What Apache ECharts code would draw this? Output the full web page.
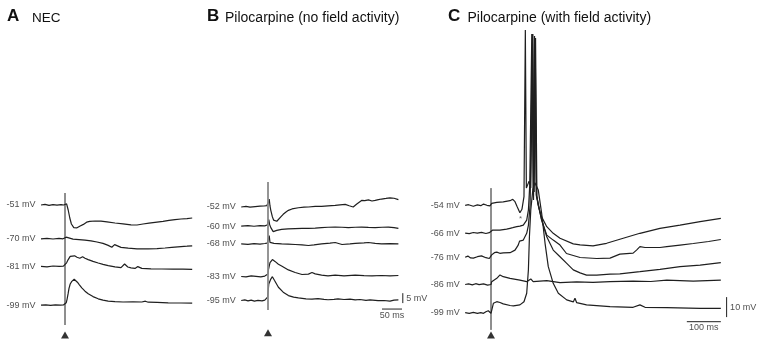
<!DOCTYPE html>
<html>
<head>
<meta charset="utf-8">
<title>Evoked responses</title>
<script src="https://cdn.jsdelivr.net/npm/echarts@6.0.0/dist/echarts.min.js"></script>
<style>
  html, body { margin: 0; padding: 0; background: #ffffff; }
  #chart { width: 762px; height: 346px; }
</style>
</head>
<body>
<div id="chart"></div>
<script>
// ---- data (time in ms from stimulus, voltage in mV relative to each trace's baseline) ----

// panel A: NEC
const labelsA = ['-51 mV', '-70 mV', '-81 mV', '-99 mV'];
const offsetsA = [0, -16.9, -30.7, -50.1];
const nec51 = [[-60,0],[-50,0.3],[-40,-0.2],[-30,0.2],[-20,-0.1],[-10,0.2],[-3,0],[0,1.0],[4,0.6],[8,-2.5],[12,-6.5],[16,-9.5],[22,-11.3],[30,-11.4],[38,-10.5],[46,-9.7],[54,-8.6],[62,-8.2],[75,-8],[90,-8.1],[105,-8.4],[125,-9],[145,-9.4],[165,-9.9],[180,-10],[195,-9.5],[210,-9.1],[225,-8.7],[245,-8.2],[260,-7.7],[275,-7.3],[290,-7.0],[305,-6.8],[318,-6.5]];
const nec70 = [[-60,0],[-45,0.2],[-30,-0.1],[-15,0.2],[-5,0],[0,0.3],[3,0.8],[8,0.3],[20,-0.2],[35,-0.4],[50,-0.7],[65,-1],[80,-1.6],[95,-2.3],[108,-3.3],[117,-4.2],[121,-3.2],[124,-2.9],[129,-3.7],[140,-4.3],[158,-4.7],[180,-5],[208,-5],[230,-4.9],[250,-4.6],[267,-4.3],[290,-3.9],[305,-3.7],[318,-3.5]];
const nec81 = [[-60,0],[-45,-0.2],[-30,0.2],[-15,0],[-4,0.1],[0,0.4],[4,1.8],[8,3.4],[13,5],[18,5.8],[24,5.3],[30,4.6],[37,4.1],[41,4.6],[44,4.8],[50,4.1],[58,3.4],[70,2.5],[83,1.7],[95,1],[108,0.4],[125,-0.2],[140,-0.6],[145,0.2],[149,1.2],[152,0.6],[157,-0.3],[165,-0.7],[175,-1],[179,-0.5],[182,-0.1],[186,-0.8],[192,-1],[215,-1.2],[242,-1.3],[270,-1.4],[295,-1.4],[318,-1.5]];
const nec99 = [[-60,0],[-48,0.2],[-36,-0.1],[-24,0.2],[-12,0],[-4,0.1],[0,0.4],[3,1.2],[5,2.8],[8,6],[10,8.4],[13,10.6],[17,11.9],[23,13],[27,12.6],[31,11.5],[36,10.2],[42,8.7],[50,7],[58,5.7],[70,4.3],[83,3.2],[95,2.5],[108,2],[125,1.8],[145,1.6],[170,1.7],[192,1.6],[197,2.3],[201,2],[208,1.5],[230,1.4],[258,1.2],[290,1.1],[318,1]];
const stimA = [6, -60, -65];

// panel B: pilocarpine, no field activity
const labelsB = ['-52 mV', '-60 mV', '-68 mV', '-83 mV', '-95 mV'];
const offsetsB = [0, -9.6, -18.6, -35, -47.1];
const pilo52 = [[-67,0],[-55,0.3],[-45,-0.1],[-32,0.2],[-20,0.4],[-10,0.5],[-3,0.7],[0,0.9],[1.5,2.5],[3,4],[5,0.5],[7,-1.7],[11,-5],[14,-6.6],[17.5,-7.5],[22,-7.2],[26,-6.4],[32,-5],[38,-3.7],[45,-2.5],[51,-1.7],[60,-1],[76,-0.4],[90,-0.1],[101,0],[118,0.3],[134,0.3],[150,0.6],[168,0.8],[180,1.1],[193,1.3],[203,0.6],[213,0],[222,1.5],[234,3.3],[242,3.2],[251,3.6],[260,3],[268,3.3],[276,3.7],[284,4],[295,4.3],[305,4.6],[315,4.4],[326,3.7]];
const pilo60 = [[-67,0],[-50,0.2],[-35,-0.1],[-20,0.2],[-8,0.1],[-2,0.5],[0,0.8],[2,3.3],[4,0.8],[7,-0.8],[13,-2.8],[22,-2.2],[34,-1.7],[50,-1.4],[68,-1.3],[85,-1.2],[101,-1.2],[118,-1],[134,-0.8],[150,-0.6],[168,-0.5],[185,-0.6],[201,-0.8],[218,-0.6],[234,-0.5],[251,-0.7],[268,-0.8],[285,-0.6],[301,-0.5],[315,-0.8],[326,-1.2]];
const pilo68 = [[-67,0],[-50,-0.2],[-35,0.1],[-20,-0.1],[-8,0.2],[-2,0.4],[0,0.8],[3,4.2],[5,0.8],[8,1.7],[10,0.5],[15,0.3],[34,0],[50,-0.1],[68,-0.3],[85,-0.5],[101,-0.8],[115,-0.5],[134,0],[155,0.4],[168,0.7],[185,-0.3],[205,0],[218,0.3],[240,0.5],[251,0.7],[268,0.3],[284,0],[305,0.1],[326,0]];
const pilo83 = [[-67,0],[-55,-0.2],[-42,0.3],[-30,0.1],[-18,-0.2],[-8,0.2],[-4,0.3],[0,1.2],[1,3.3],[5,7],[11,8.5],[17.5,7.6],[26,6.2],[34,5.3],[51,3.3],[68,2],[85,1],[101,1.2],[110,2],[118,1.3],[134,0.7],[150,0.3],[168,0.7],[190,0.3],[218,0.7],[240,0.4],[260,0.3],[284,0.5],[305,0.3],[326,0.5]];
const pilo95 = [[-67,0],[-58,0.3],[-50,-0.2],[-42,0.2],[-34,-0.3],[-25,0.1],[-15,-0.2],[-8,0.2],[-3,0.3],[-1,1.7],[2,8.3],[7,10.8],[11,12],[16,10.2],[26,6.7],[38,4.2],[51,2.5],[64,1.7],[76,1.3],[95,0.8],[110,0.7],[125,1],[140,0.6],[150,0.4],[165,0.6],[175,0.8],[190,0.5],[205,0.7],[218,0.3],[230,0.5],[245,0.1],[255,0.3],[275,-0.1],[290,0],[305,-0.3],[315,0.2],[326,0.3]];
const stimB = [12.6, -51.9, -63.3];
const barB = { ms: [285, 335], msLevel: -51.4, mV: [-43.4, -48.4], mVAt: 337 };

// panel C: pilocarpine, with field activity
const labelsC = ['-54 mV', '-66 mV', '-76 mV', '-86 mV', '-99 mV'];
const offsetsC = [0, -13.9, -26, -39.6, -53.7];
const field54 = [[-76,0],[-66,0.3],[-52,-0.5],[-40,0.2],[-30,-0.2],[-22,0.6],[-12,0],[-3,-0.3],[0,0],[2,1],[17,1.5],[36,1.7],[56,2.3],[64,3],[70.6,1.8],[77,-0.7],[85,-3.7],[91,-2],[97,4.3],[101,87.6],[104,8.6],[112,12.1],[117,8.6],[123,85.6],[127,6.6],[131,83.6],[135,4.6],[139,0],[144,-3.3],[149,-5.8],[164,-10.7],[183,-14],[203,-16.5],[242,-19.3],[262,-19.8],[300,-20.3],[340,-19],[379,-17],[438,-14],[497,-11.5],[556,-9.9],[615,-8.2],[676,-6.5]];
const field66 = [[-76,0],[-64,-0.3],[-52,0.3],[-40,0],[-28,0.4],[-15,-0.2],[-5,0.2],[0,-0.2],[5,1.5],[26,1.5],[46,2],[56,2.4],[64,2.7],[76,3.2],[85,3.5],[95,4],[105,6.5],[110,11.5],[114,24],[120,99.5],[124,21.5],[128,98.5],[133,19],[139,14],[149,6.5],[164,-1],[183,-3.5],[203,-6],[222,-10.2],[262,-12.2],[311,-12.7],[350,-12.5],[379,-10.5],[418,-10],[428,-8.5],[438,-6.8],[443,-6],[453,-7.2],[497,-7.2],[517,-6.8],[556,-6],[595,-5.2],[640,-4.2],[676,-3.2]];
const field76 = [[-76,0],[-68,0.6],[-60,-0.3],[-52,-0.4],[-40,0.3],[-28,0.7],[-15,-0.2],[-5,-0.6],[0,-0.4],[2,1.2],[10,2.3],[17,2.6],[26,2],[36,2.2],[56,2.3],[70.6,3.6],[80,6.1],[84,8.1],[88,7.1],[95,8.6],[100,9.5],[105,12],[110,16],[115,26],[122,111.6],[125,28.6],[130,106],[134,31],[140,26],[149,18.6],[164,10.3],[183,3.6],[203,0.3],[222,-2.9],[242,-6.3],[262,-7.8],[281,-8.9],[311,-8.9],[350,-8.4],[379,-8.3],[438,-7.2],[497,-6],[556,-4.7],[615,-3.9],[676,-2.7]];
const field86 = [[-76,0],[-66,0.3],[-55,-0.2],[-45,0.4],[-35,-0.1],[-22,0.3],[-10,-0.3],[0,0],[2,1.4],[17,3.1],[26.5,4.8],[36,3.9],[56,3.1],[85,2.2],[105,1.4],[117,2.8],[124,1.4],[164,1.9],[203,0.9],[252,1.3],[300,1.1],[350,1.4],[418,1.7],[470,1.5],[517,2.2],[595,1.7],[676,2.2]];
const field99 = [[-76,0],[-64,-0.3],[-52,0.2],[-40,-0.3],[-30,0],[-22,-0.3],[-15,0.5],[-8,1],[-3,1],[0,-0.3],[7,4.7],[17,5.5],[26.5,5.1],[36,4.4],[56,3.6],[66,3.4],[85,3.9],[97,5.5],[105,9.7],[110,21.4],[113,38],[117,51.4],[123,61.4],[129,65],[139,61.4],[149,49.7],[159,34.7],[168.5,23],[183,14.7],[198,9.7],[222.6,6.4],[242,5.4],[247,7.2],[252,5],[281,3.9],[350,3],[418,2.7],[438,3.9],[453,2.7],[517,2.5],[615,2.2],[676,2.2]];
const stimC = [8.6, -62.3, -64.9];
const barC = { ms: [576, 676], msLevel: -58.2, mV: [-45.9, -55.9], mVAt: 693 };
const asteriskC = [87, -6.5];

// ---- chart ----
const ink = '#1f1f1f';
const font = 'Liberation Sans, Arial, Helvetica, sans-serif';

function traceSeries(idx, data, off) {
    return {
        type: 'line', xAxisIndex: idx, yAxisIndex: idx,
        data: data.map(p => [p[0], p[1] + off]),
        symbol: 'none', silent: true, clip: false,
        lineStyle: { width: 1.2, color: ink }
    };
}

function labelSeries(idx, labels, offsets, t0) {
    return {
        type: 'scatter', xAxisIndex: idx, yAxisIndex: idx,
        symbolSize: 1, itemStyle: { color: 'rgba(0,0,0,0)' }, silent: true,
        data: labels.map((l, i) => ({ value: [t0, offsets[i]], name: l })),
        label: {
            show: true, position: 'left', distance: 5,
            formatter: p => p.name, fontSize: 9, fontFamily: font, color: '#222'
        }
    };
}

function stimSeries(idx, stim, color, width) {
    return [{
        type: 'line', xAxisIndex: idx, yAxisIndex: idx, symbol: 'none', silent: true, clip: false,
        data: [[0, stim[0]], [0, stim[1]]],
        lineStyle: { width: width, color: color }
    }, {
        type: 'scatter', xAxisIndex: idx, yAxisIndex: idx, symbol: 'triangle', symbolSize: [8, 7],
        silent: true, clip: false, itemStyle: { color: '#000' }, data: [[0, stim[2]]]
    }];
}

function scaleBar(idx, bar, msText, mvText) {
    const txt = { fontSize: 9, fontFamily: font, color: '#222' };
    return [{
        type: 'line', xAxisIndex: idx, yAxisIndex: idx, symbol: 'none', silent: true, clip: false,
        data: [[bar.ms[0], bar.msLevel], [bar.ms[1], bar.msLevel]],
        lineStyle: { width: 1, color: ink }
    }, {
        type: 'line', xAxisIndex: idx, yAxisIndex: idx, symbol: 'none', silent: true, clip: false,
        data: [[bar.mVAt, bar.mV[0]], [bar.mVAt, bar.mV[1]]],
        lineStyle: { width: 1, color: ink }
    }, {
        type: 'scatter', xAxisIndex: idx, yAxisIndex: idx, symbolSize: 1, silent: true,
        itemStyle: { color: 'rgba(0,0,0,0)' },
        data: [
            { value: [(bar.ms[0] + bar.ms[1]) / 2, bar.msLevel], name: msText, label: { position: 'bottom', distance: 1 } },
            { value: [bar.mVAt, (bar.mV[0] + bar.mV[1]) / 2], name: mvText, label: { position: 'right', distance: 3 } }
        ],
        label: Object.assign({ show: true, formatter: p => p.name }, txt)
    }];
}

const grids = [
    { left: 25, top: 15, width: 180, height: 330 },
    { left: 228, top: 18.3, width: 180, height: 330 },
    { left: 423, top: 15.3, width: 306, height: 330 }
];
const xRanges = [[-100, 350], [-100, 350], [-200, 700]];

const series = [];
[nec51, nec70, nec81, nec99].forEach((d, i) => series.push(traceSeries(0, d, offsetsA[i])));
[pilo52, pilo60, pilo68, pilo83, pilo95].forEach((d, i) => series.push(traceSeries(1, d, offsetsB[i])));
[field54, field66, field76, field86, field99].forEach((d, i) => series.push(traceSeries(2, d, offsetsC[i])));
series.push(labelSeries(0, labelsA, offsetsA, nec51[0][0]));
series.push(labelSeries(1, labelsB, offsetsB, pilo52[0][0]));
series.push(labelSeries(2, labelsC, offsetsC, field54[0][0]));
series.push(...stimSeries(0, stimA, ink, 1));
series.push(...stimSeries(1, stimB, '#8a8a8a', 1.8));
series.push(...stimSeries(2, stimC, ink, 1));
series.push(...scaleBar(1, barB, '50 ms', '5 mV'));
series.push(...scaleBar(2, barC, '100 ms', '10 mV'));
series.push({
    type: 'scatter', xAxisIndex: 2, yAxisIndex: 2, symbolSize: 1, silent: true,
    itemStyle: { color: 'rgba(0,0,0,0)' }, data: [asteriskC],
    label: { show: true, position: 'inside', formatter: '*', fontSize: 8, fontFamily: font, color: '#444' }
});

const heading = (text, x, y, size, weight) => ({
    type: 'text', silent: true,
    style: { text: text, x: x, y: y, fontSize: size, fontWeight: weight, fontFamily: font, fill: '#111', verticalAlign: 'middle' }
});

const chart = echarts.init(document.getElementById('chart'), null, { renderer: 'canvas' });
chart.setOption({
    animation: false,
    backgroundColor: '#ffffff',
    grid: grids,
    xAxis: xRanges.map((r, i) => ({ type: 'value', gridIndex: i, min: r[0], max: r[1], show: false })),
    yAxis: grids.map((g, i) => ({ type: 'value', gridIndex: i, min: -70, max: 95, show: false })),
    graphic: [
        heading('A', 7, 16, 17, 'bold'),
        heading('NEC', 32, 18.5, 13.5, 'normal'),
        heading('B', 207, 16, 17, 'bold'),
        heading('Pilocarpine (no field activity)', 225, 18, 14, 'normal'),
        heading('C', 448, 16.5, 17, 'bold'),
        heading('Pilocarpine (with field activity)', 467.5, 18, 14, 'normal')
    ],
    series: series
});
</script>
</body>
</html>
